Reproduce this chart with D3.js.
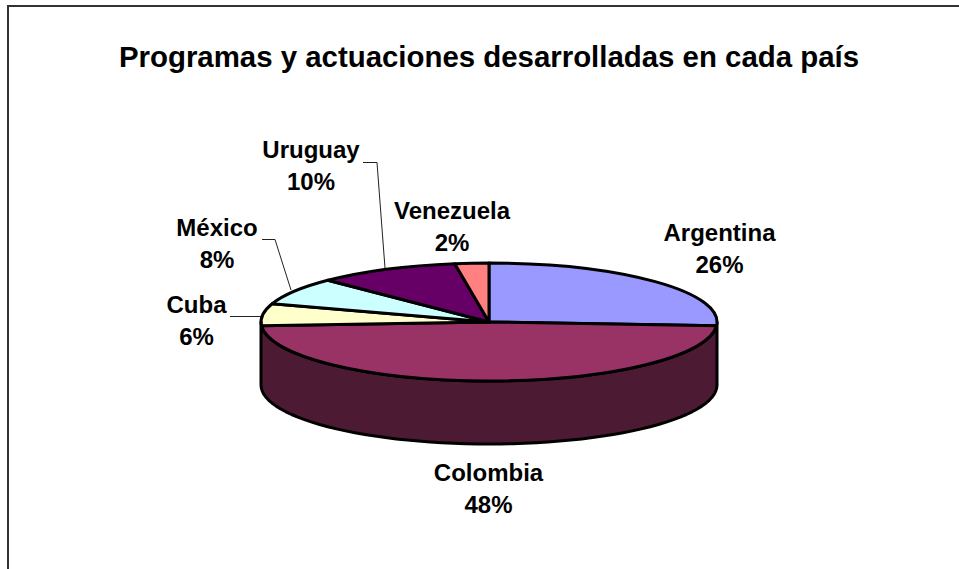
<!DOCTYPE html>
<html><head><meta charset="utf-8">
<script src="https://cdn.jsdelivr.net/npm/d3@7"></script>
<style>html,body{margin:0;padding:0;background:#fff}svg{display:block}text{font-family:"Liberation Sans",Arial,sans-serif;font-weight:bold;fill:#000}</style>
</head><body><svg id="c" width="959" height="569"></svg>
<script>
const categories=["Argentina","Colombia","Cuba","México","Uruguay","Venezuela"];
const seriesValues=[26,48,6,7.5,10.1,2.4];
const sliceColors=["#9999FF","#993366","#FFFFCC","#CCFFFF","#660066","#FF8080"];
const wallColor="#4D1A33";
const titleText="Programas y actuaciones desarrolladas en cada país";
const labelPos=[[719.5,241],[488.5,481],[196.5,313],[217,236],[311,158],[452,219]];
const leaders=[null,null,[[230,316.5],[261,316.5]],[[262,239.5],[275,239.5],[291,290]],[[363,162.5],[377,162.5],[385,268]],null];

const svg=d3.select("#c");
const cx=489,cy=322,rx=228,ry=59,depth=63;
svg.append("path").attr("d",d3.line()([[8,569],[8,6],[959,6]])).attr("fill","none").attr("stroke","#333").attr("stroke-width",2);
svg.append("text").attr("x",489).attr("y",67).attr("text-anchor","middle").attr("font-size",29.4).text(titleText);

const pie=d3.pie().sort(null).value(d=>d)(seriesValues);
const arc=d3.arc().innerRadius(0).outerRadius(rx);
const px=a=>cx+rx*Math.sin(a), py=(a,d=0)=>cy-ry*Math.cos(a)+d;
// wall
const n=d3.range(0,61).map(i=>Math.PI/2+Math.PI*i/60);
const wall=[...n.map(a=>[px(a),py(a)]),...n.slice().reverse().map(a=>[px(a),py(a,depth)])];
svg.append("path").attr("d",d3.line()(wall)+"Z").attr("fill",wallColor).attr("stroke","#000").attr("stroke-width",3).attr("stroke-linejoin","round");
// top
svg.append("g").attr("transform",`translate(${cx},${cy}) scale(1,${ry/rx})`)
 .selectAll("path").data(pie).join("path").attr("d",arc)
 .attr("fill",(d,i)=>sliceColors[i]).attr("stroke","#000").attr("stroke-width",3)
 .attr("stroke-linejoin","round").attr("vector-effect","non-scaling-stroke");
// leaders
leaders.forEach(l=>{if(l)svg.append("path").attr("d",d3.line()(l)).attr("fill","none").attr("stroke","#222").attr("stroke-width",1);});
// labels
categories.forEach((c,i)=>{
 const t=svg.append("text").attr("text-anchor","middle").attr("font-size",24);
 t.append("tspan").attr("x",labelPos[i][0]).attr("y",labelPos[i][1]).text(c);
 t.append("tspan").attr("x",labelPos[i][0]).attr("y",labelPos[i][1]+32).text(d3.format(".0f")(seriesValues[i])+"%");
});
</script></body></html>
